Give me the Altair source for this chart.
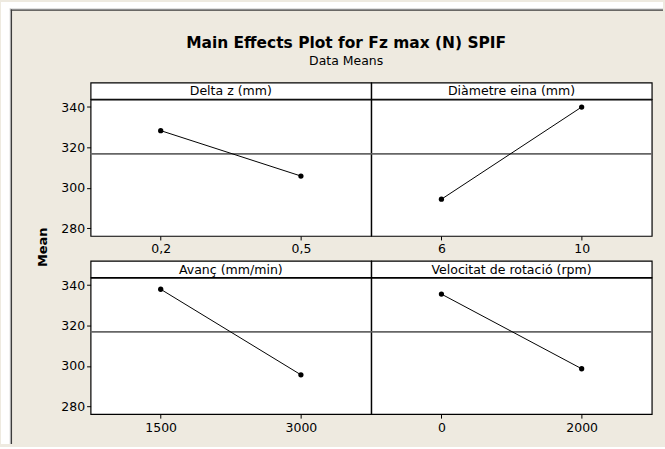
import altair as alt
import pandas as pd

# Main-effect means of Fz max (N) for each factor level
FACTORS = ["Delta z (mm)", "Diàmetre eina (mm)", "Avanç (mm/min)", "Velocitat de rotació (rpm)"]
LEVELS = [["0,2", "0,5"], ["6", "10"], ["1500", "3000"], ["0", "2000"]]
MEANS = [[328.3, 305.8], [294.3, 340.0], [338.0, 295.6], [335.6, 298.6]]
GRAND_MEAN = 316.9
Y_TICKS = [280, 300, 320, 340]
Y_DOMAIN = [276.1, 343.7]

TITLE = "Main Effects Plot for Fz max (N) SPIF"
SUBTITLE = "Data Means"
Y_LABEL = "Mean"

FONT = "DejaVu Sans"
BG = "#EEEAE0"
FRAME = dict(fill="white", stroke="black", strokeWidth=1.2)
CLEAR = dict(stroke="transparent")

# grid of cells: column widths and row heights (px); the last row is kept a little
# short so the page (svg plus inline descender gap) stays within the window height
COL_W = [10, 79.3, 281.7, 281.7, 12.3]
ROW_H = [8, 72.7, 16.5, 137, 24.8, 16.5, 137, 31.5]
TOTAL_W, TOTAL_H = sum(COL_W), sum(ROW_H)
EDGE = "#3c3c3c"
EDGE_LIGHT = "#c4c4c4"

one = pd.DataFrame({"k": [0]})


def box(color, x0, x1, y0, y1, opacity=1):
    return (
        alt.Chart(one)
        .mark_rect(color=color, opacity=opacity, strokeWidth=0)
        .encode(x=alt.value(x0), x2=alt.value(x1), y=alt.value(y0), y2=alt.value(y1))
    )


def blank(w, h):
    return box("white", 0, w, 0, h, opacity=0).properties(
        width=w, height=h, view=alt.ViewBackground(**CLEAR)
    )


def outer_frame(w, h):
    # white page margin on the left and top, and the frame edges, drawn from the corner cell
    mx, my = COL_W[0], ROW_H[0]
    return alt.layer(
        box("white", 0, mx, 0, TOTAL_H),
        box("white", 0, TOTAL_W, 0, my),
        box(EDGE_LIGHT, mx - 1.2, mx - 0.2, my - 1.4, TOTAL_H),
        box(EDGE_LIGHT, mx - 1.2, TOTAL_W, my - 1.4, my - 0.4),
        box(EDGE, mx - 0.2, mx + 1.1, my - 0.4, TOTAL_H),
        box(EDGE, mx - 0.2, TOTAL_W, my - 0.4, my + 0.9),
    ).properties(width=w, height=h, view=alt.ViewBackground(**CLEAR))


def header(name, w, h):
    return (
        alt.Chart(pd.DataFrame({"factor": [name]}))
        .mark_text(font=FONT, fontSize=12.6, color="black", baseline="middle", align="center")
        .encode(text="factor:N", x=alt.value(w / 2), y=alt.value(h / 2 + 0.5))
        .properties(width=w, height=h, view=alt.ViewBackground(**FRAME))
    )


def panel(i, show_y, w, h):
    df = pd.DataFrame({"level": LEVELS[i], "mean": MEANS[i]})
    yscale = alt.Scale(domain=Y_DOMAIN, nice=False, zero=False)
    yaxis = alt.Axis(values=Y_TICKS, title=None) if show_y else None
    x = alt.X(
        "level:N",
        sort=LEVELS[i],
        scale=alt.Scale(type="point", padding=0.5),
        axis=alt.Axis(title=None, labelAngle=0),
    )
    y = alt.Y("mean:Q", scale=yscale, axis=yaxis)
    base = alt.Chart(df)
    ref = base.mark_rule(color="#666666", strokeWidth=1.5).encode(
        y=alt.YDatum(GRAND_MEAN, scale=yscale, axis=yaxis)
    )
    line = base.mark_line(color="black", strokeWidth=1).encode(x=x, y=y)
    pts = base.mark_point(filled=True, color="black", size=28, opacity=1).encode(x=x, y=y)
    return alt.layer(ref, line, pts).properties(
        width=w, height=h, view=alt.ViewBackground(**FRAME)
    )


def title_cell(w, h):
    # title centred on the frame, positioned within the first panel column
    cx = 346 - (COL_W[0] + COL_W[1])
    return alt.layer(
        alt.Chart(pd.DataFrame({"t": [TITLE]}))
        .mark_text(font=FONT, fontSize=15.5, fontWeight="bold", color="black",
                   align="center", baseline="alphabetic")
        .encode(text="t:N", x=alt.value(cx), y=alt.value(38.5)),
        alt.Chart(pd.DataFrame({"t": [SUBTITLE]}))
        .mark_text(font=FONT, fontSize=12.5, color="black", align="center", baseline="alphabetic")
        .encode(text="t:N", x=alt.value(cx), y=alt.value(55.3)),
    ).properties(width=w, height=h, view=alt.ViewBackground(**CLEAR))


def y_label_cell(w, h):
    return (
        alt.Chart(pd.DataFrame({"t": [Y_LABEL]}))
        .mark_text(font=FONT, fontSize=13, fontWeight="bold", angle=270,
                   align="center", baseline="middle", color="black")
        .encode(text="t:N", x=alt.value(32), y=alt.value(11.4))
        .properties(width=w, height=h, view=alt.ViewBackground(**CLEAR))
    )


cells = []
for r, h in enumerate(ROW_H):
    for c, w in enumerate(COL_W):
        if r == 0 and c == 0:
            cells.append(outer_frame(w, h))
        elif r == 1 and c == 2:
            cells.append(title_cell(w, h))
        elif r in (2, 5) and c in (2, 3):
            cells.append(header(FACTORS[(0 if r == 2 else 2) + (c - 2)], w, h))
        elif r in (3, 6) and c in (2, 3):
            cells.append(panel((0 if r == 3 else 2) + (c - 2), c == 2, w, h))
        elif r == 4 and c == 1:
            cells.append(y_label_cell(w, h))
        else:
            cells.append(blank(w, h))

chart = (
    alt.concat(*cells, columns=len(COL_W), spacing=0, bounds="flush", align="each")
    .properties(background=BG, padding=0)
    .configure_view(stroke="transparent")
    .configure_axis(
        labelFont=FONT, labelFontSize=12.5, labelColor="black",
        tickColor="black", tickSize=4, tickWidth=1,
        domain=False, grid=False,
    )
    .configure_axisX(labelPadding=3)
    .configure_axisY(labelPadding=2)
)

chart.save("out.html", embed_options={"renderer": "svg", "actions": False})
